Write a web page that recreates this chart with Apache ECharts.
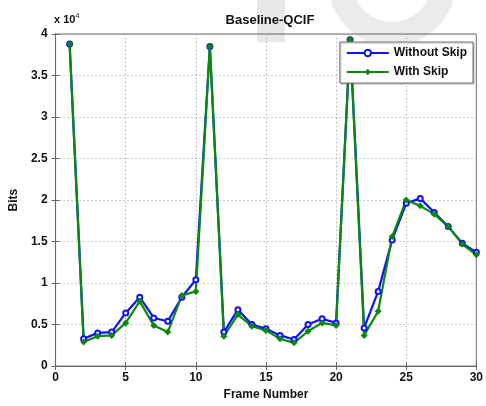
<!DOCTYPE html>
<html>
<head>
<meta charset="utf-8">
<script src="https://cdn.jsdelivr.net/npm/echarts@6/dist/echarts.min.js"></script>
<style>html,body{margin:0;padding:0;background:#fff}#c{width:486px;height:406px}</style>
</head>
<body>
<div id="c"></div>
<script>
var frames = [1,2,3,4,5,6,7,8,9,10,11,12,13,14,15,16,17,18,19,20,21,22,23,24,25,26,27,28,29,30];
var withoutSkip = [38800,3300,4000,4100,6400,8300,5800,5400,8300,10400,38500,4100,6800,5000,4500,3700,3200,5000,5700,5200,39300,4600,9000,15200,19600,20200,18500,16800,14800,13700];
var withSkip    = [38800,2900,3600,3700,5200,7800,4900,4100,8500,9000,38500,3600,6200,4800,4300,3300,2800,4200,5200,4900,39300,3700,6600,15600,20000,19300,18300,16800,14700,13400];
var yTicks = ['0','0.5','1','1.5','2','2.5','3','3.5','4'];
var xTicks = ['0','5','10','15','20','25','30'];

function pairs(v){ return frames.map(function(f,i){ return [f, v[i]]; }); }

var chart = echarts.init(document.getElementById('c'), null, {renderer:'canvas'});
var lblFont = {fontFamily:'Liberation Sans, Arial, sans-serif', fontWeight:'bold', fontSize:12, color:'#111'};
chart.setOption({
  animation:false,
  backgroundColor:'#fff',
  title:{text:'Baseline-QCIF', left:265, top:9, textAlign:'center',
    textStyle:{fontFamily:'Liberation Sans, Arial, sans-serif', fontWeight:'bold', fontSize:13, color:'#111'}},
  grid:{left:52, right:7, top:34, bottom:34, show:true, borderColor:'#666', borderWidth:1, backgroundColor:'transparent'},
  legend:{right:13, top:42, orient:'vertical', itemWidth:42, itemHeight:8, itemGap:7, zlevel:1, z:100,
    padding:[5,6,5,6], backgroundColor:'#fff', borderColor:'#777', borderWidth:1,
    shadowColor:'rgba(0,0,0,0.3)', shadowOffsetX:1, shadowOffsetY:1, shadowBlur:1,
    textStyle:{fontFamily:'Liberation Sans, Arial, sans-serif', fontWeight:'bold', fontSize:12, color:'#111'},
    data:['Without Skip','With Skip']},
  xAxis:[{type:'value', min:0, max:30, interval:5, position:'bottom',
    name:'Frame Number', nameLocation:'middle', nameGap:17,
    nameTextStyle:lblFont,
    axisLine:{show:true, lineStyle:{color:'#666'}},
    axisTick:{show:true, inside:true, length:4, lineStyle:{color:'#666'}},
    axisLabel:Object.assign({margin:6, formatter:function(v){return xTicks[v/5];}}, lblFont),
    splitLine:{show:true, lineStyle:{type:[1,3], color:'#999'}}},
   {type:'value', min:0, max:30, interval:5, position:'top',
    axisLine:{show:true, lineStyle:{color:'#666'}},
    axisTick:{show:true, inside:true, length:4, lineStyle:{color:'#666'}},
    axisLabel:{show:false}, splitLine:{show:false}}],
  yAxis:[{type:'value', min:0, max:40000, interval:5000, position:'left',
    name:'Bits', nameLocation:'middle', nameGap:28, nameRotate:90,
    nameTextStyle:lblFont,
    axisLine:{show:true, lineStyle:{color:'#666'}},
    axisTick:{show:true, inside:true, length:4, lineStyle:{color:'#666'}},
    axisLabel:Object.assign({margin:8, formatter:function(v){return yTicks[Math.round(v/5000)];}}, lblFont),
    splitLine:{show:true, lineStyle:{type:[1,3], color:'#999'}}},
   {type:'value', min:0, max:40000, interval:5000, position:'right',
    axisLine:{show:true, lineStyle:{color:'#666'}},
    axisTick:{show:true, inside:true, length:4, lineStyle:{color:'#666'}},
    axisLabel:{show:false}, splitLine:{show:false}}],
  graphic:[
    {type:'rect', z:-10, shape:{x:257, y:0, width:28, height:42}, style:{fill:'rgba(210,210,210,0.5)'}},
    {type:'ring', z:-10, shape:{cx:392, cy:-18, r:64, r0:40}, style:{fill:'rgba(215,215,215,0.5)'}},
    {type:'text', left:54, top:13, style:{rich:{a:{fontFamily:'Liberation Sans, Arial, sans-serif', fontSize:11, fill:'#111', fontWeight:'bold'}, b:{fontFamily:'Liberation Sans, Arial, sans-serif', fontSize:7, fill:'#111', verticalAlign:'top', padding:[0,0,6,0]}}, text:'{a|x 10}{b|4}'}}
  ],
  series:[
    {name:'Without Skip', type:'line', data:pairs(withoutSkip), symbol:'emptyCircle', symbolSize:5,
      lineStyle:{color:'#1010ff', width:2.2}, itemStyle:{color:'#1010ff', borderWidth:2}, z:1},
    {name:'With Skip', type:'line', data:pairs(withSkip), symbol:'diamond', symbolSize:7,
      lineStyle:{color:'#0a8a0a', width:2.2}, itemStyle:{color:'#0a8a0a'}, z:1}
  ]
});
</script>
</body>
</html>
